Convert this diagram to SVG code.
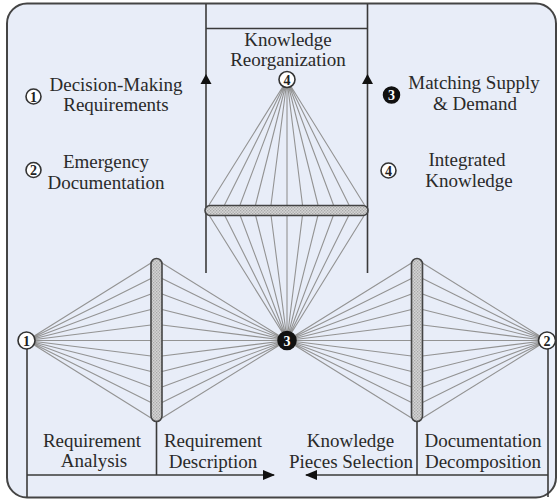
<svg xmlns="http://www.w3.org/2000/svg" width="559" height="501" viewBox="0 0 559 501">
<defs>
<pattern id="dots" width="3" height="3" patternUnits="userSpaceOnUse">
<rect width="3" height="3" fill="#d4d4d4"/>
<rect x="0" y="0" width="1.3" height="1.3" fill="#a8a8a8"/>
<rect x="1.5" y="1.5" width="1.3" height="1.3" fill="#a8a8a8"/>
</pattern>
<marker id="arr" viewBox="0 0 12 10" refX="11" refY="5" markerWidth="12" markerHeight="10" markerUnits="userSpaceOnUse" orient="auto">
<path d="M0,0 L12,5 L0,10 Z" fill="#111"/>
</marker>
</defs>
<style>
.t{font-family:"Liberation Serif","Times New Roman",serif;font-size:19px;fill:#2a2a2a;text-anchor:middle}
.n{font-family:"Liberation Serif","Times New Roman",serif;font-size:14px;font-weight:bold;text-anchor:middle}
.ln{stroke:#3a3a3a;stroke-width:1.6;fill:none}
.fan{stroke:#939393;stroke-width:1.1;fill:none}
.bar{fill:url(#dots);stroke:#444;stroke-width:1.6}
.oc{fill:#fff;stroke:#333;stroke-width:1.6}
.bc{fill:#111;stroke:#111;stroke-width:1.5}
</style>
<rect x="7" y="3.5" width="549" height="494" rx="20" ry="20" fill="#e8edf8" stroke="#444" stroke-width="2"/>

<g id="connectors">
<line class="ln" x1="206" y1="4" x2="206" y2="273"/>
<line class="ln" x1="367.5" y1="4" x2="367.5" y2="273"/>
<line class="ln" x1="206" y1="28.5" x2="367.5" y2="28.5"/>
<path d="M206,74 L200.5,84 L211.5,84 Z" fill="#111"/>
<path d="M367.5,74 L362,84 L373,84 Z" fill="#111"/>
<line class="ln" x1="27" y1="349" x2="27" y2="497"/>
<line class="ln" x1="548" y1="349" x2="548" y2="497"/>
<line class="ln" x1="156.5" y1="421" x2="156.5" y2="475"/>
<line class="ln" x1="417" y1="421" x2="417" y2="475"/>
<line class="ln" x1="27" y1="475" x2="274" y2="475" marker-end="url(#arr)"/>
<line class="ln" x1="548" y1="475" x2="306" y2="475" marker-end="url(#arr)"/>
<g class="fan">
<path d="M287,80 L209,205 M287,80 L224.5,205 M287,80 L240,205 M287,80 L255.5,205 M287,80 L271,205 M287,80 L287,205 M287,80 L302.5,205 M287,80 L318,205 M287,80 L333.5,205 M287,80 L349,205 M287,80 L364.5,205"/>
<path d="M287,340 L209,215 M287,340 L224.5,215 M287,340 L240,215 M287,340 L255.5,215 M287,340 L271,215 M287,340 L287,215 M287,340 L302.5,215 M287,340 L318,215 M287,340 L333.5,215 M287,340 L349,215 M287,340 L364.5,215"/>
<path d="M27,340.5 L151,263 M27,340.5 L151,278.5 M27,340.5 L151,294 M27,340.5 L151,309.5 M27,340.5 L151,325 M27,340.5 L151,340.5 M27,340.5 L151,356 M27,340.5 L151,371.5 M27,340.5 L151,387 M27,340.5 L151,402.5 M27,340.5 L151,418"/>
<path d="M287,340.5 L162,263 M287,340.5 L162,278.5 M287,340.5 L162,294 M287,340.5 L162,309.5 M287,340.5 L162,325 M287,340.5 L162,340.5 M287,340.5 L162,356 M287,340.5 L162,371.5 M287,340.5 L162,387 M287,340.5 L162,402.5 M287,340.5 L162,418"/>
<path d="M287,340.5 L411.5,263 M287,340.5 L411.5,278.5 M287,340.5 L411.5,294 M287,340.5 L411.5,309.5 M287,340.5 L411.5,325 M287,340.5 L411.5,340.5 M287,340.5 L411.5,356 M287,340.5 L411.5,371.5 M287,340.5 L411.5,387 M287,340.5 L411.5,402.5 M287,340.5 L411.5,418"/>
<path d="M547,340.5 L422.5,263 M547,340.5 L422.5,278.5 M547,340.5 L422.5,294 M547,340.5 L422.5,309.5 M547,340.5 L422.5,325 M547,340.5 L422.5,340.5 M547,340.5 L422.5,356 M547,340.5 L422.5,371.5 M547,340.5 L422.5,387 M547,340.5 L422.5,402.5 M547,340.5 L422.5,418"/>
</g>
</g>

<g id="bar-top"><rect class="bar" x="205" y="205.5" width="163" height="10" rx="5" ry="5"/></g>
<g id="bar-left"><rect class="bar" x="151" y="258.5" width="11" height="163" rx="5.5" ry="5.5"/></g>
<g id="bar-right"><rect class="bar" x="411.5" y="258.5" width="11" height="163" rx="5.5" ry="5.5"/></g>

<g id="node-1"><circle class="oc" cx="26.5" cy="340.5" r="8.5"/><text class="n" x="26.5" y="345.5" fill="#222">1</text></g>
<g id="node-2"><circle class="oc" cx="547" cy="340.5" r="8.5"/><text class="n" x="547" y="345.5" fill="#222">2</text></g>
<g id="node-3"><circle class="bc" cx="287" cy="340.5" r="9"/><text class="n" x="287" y="345.5" fill="#fff">3</text></g>
<g id="node-4"><circle class="oc" cx="287" cy="79.5" r="8"/><text class="n" x="287" y="84.5" fill="#222">4</text></g>

<g id="title"><text class="t" x="288" y="46">Knowledge</text><text class="t" x="288" y="66">Reorganization</text></g>

<g id="legend-1"><circle class="oc" cx="33.5" cy="96.5" r="7.5"/><text class="n" x="33.5" y="101.5" fill="#222">1</text>
<text class="t" x="116" y="91">Decision-Making</text><text class="t" x="116" y="111">Requirements</text></g>
<g id="legend-2"><circle class="oc" cx="33.5" cy="170" r="7.5"/><text class="n" x="33.5" y="175" fill="#222">2</text>
<text class="t" x="106" y="168">Emergency</text><text class="t" x="106" y="189">Documentation</text></g>
<g id="legend-3"><circle class="bc" cx="391.5" cy="95" r="8"/><text class="n" x="391.5" y="100" fill="#fff">3</text>
<text class="t" x="474" y="89">Matching Supply</text><text class="t" x="475" y="110">&amp; Demand</text></g>
<g id="legend-4"><circle class="oc" cx="388.5" cy="170.5" r="7.5"/><text class="n" x="388.5" y="175.5" fill="#222">4</text>
<text class="t" x="467" y="166">Integrated</text><text class="t" x="469" y="187">Knowledge</text></g>

<g id="label-ra"><text class="t" x="92" y="447">Requirement</text><text class="t" x="94" y="467">Analysis</text></g>
<g id="label-rd"><text class="t" x="213" y="447">Requirement</text><text class="t" x="213" y="468">Description</text></g>
<g id="label-kps"><text class="t" x="350.5" y="447">Knowledge</text><text class="t" x="351" y="468">Pieces Selection</text></g>
<g id="label-dd"><text class="t" x="483" y="447">Documentation</text><text class="t" x="483" y="468">Decomposition</text></g>
</svg>
